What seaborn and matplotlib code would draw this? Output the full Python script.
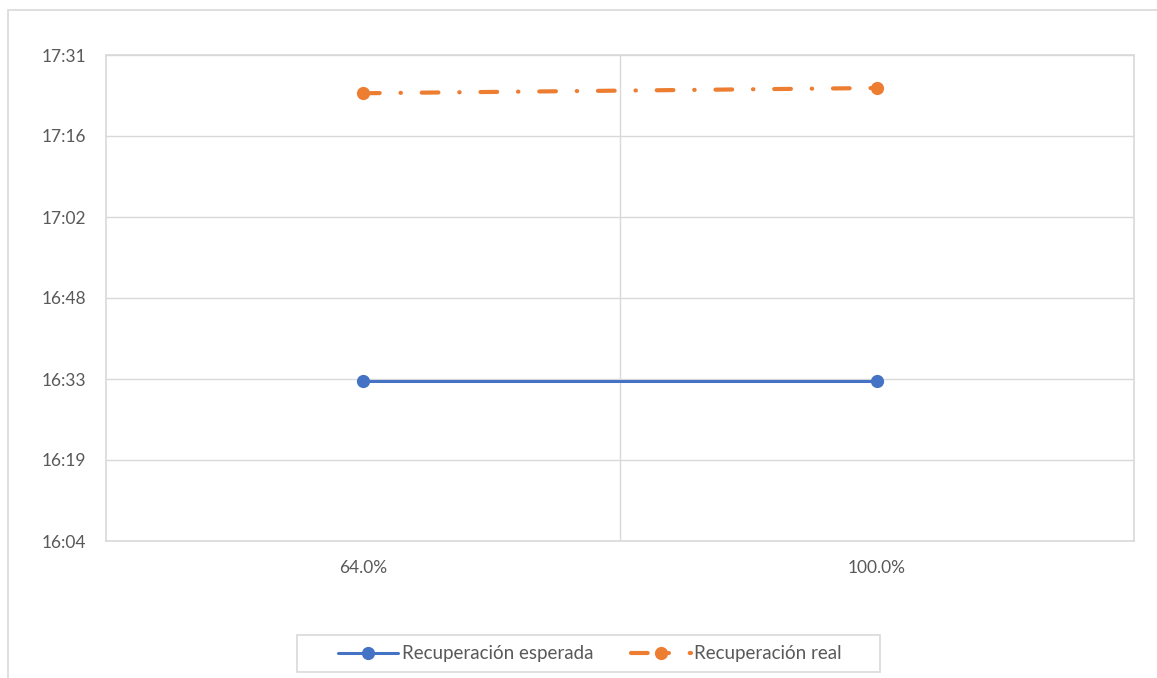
import numpy as np
import pandas as pd
import matplotlib
matplotlib.use("Agg")
import matplotlib.pyplot as plt
import matplotlib.ticker as mticker
from matplotlib.patches import Rectangle
import seaborn as sns

# datos
categorias = ["64.0%", "100.0%"]
esperada = ["16:33:15", "16:33:15"]
real = ["17:24:24", "17:25:20"]
series = ["Recuperación esperada", "Recuperación real"]


def a_fraccion(horas):
    return [pd.to_timedelta(h).total_seconds() / 86400 for h in horas]


df = pd.DataFrame({
    "categoria": categorias * 2,
    "valor": a_fraccion(esperada) + a_fraccion(real),
    "serie": [series[0]] * len(categorias) + [series[1]] * len(categorias),
})

sns.set_style("white")
plt.rcParams["font.family"] = ["Lato", "DejaVu Sans"]

fig = plt.figure(figsize=(11.57, 6.78), dpi=100)
ax = fig.add_axes([106 / 1157, 1 - 541 / 678, (1134 - 106) / 1157, (541 - 55) / 678])

colores = {series[0]: "#4472C4", series[1]: "#ED7D31"}
sns.lineplot(data=df, x="categoria", y="valor", hue="serie", palette=colores,
             marker="o", markersize=9.5, markeredgewidth=0, legend=False, ax=ax, sort=False)

lineas = ax.get_lines()
lineas[0].set_linewidth(2.2)
lineas[1].set_linewidth(3)
lineas[1].set_dashes((4, 5, 0.1, 5))
lineas[1].set_dash_capstyle("round")
for ln in lineas:
    ln.set_solid_capstyle("round")

ax.set_xlim(-0.5, len(categorias) - 0.5)
ax.set_ylim(0.67, 0.73)
ax.yaxis.set_major_locator(mticker.MultipleLocator(0.01))


def fmt_hora(x, pos):
    m = int(np.floor(x * 1440 + 1e-6))
    return f"{m // 60}:{m % 60:02d}"


ax.yaxis.set_major_formatter(mticker.FuncFormatter(fmt_hora))
ax.grid(axis="y", color="#D9D9D9", linewidth=1)
for xv in np.arange(0.5, len(categorias) - 0.5):
    ax.axvline(xv, color="#D9D9D9", linewidth=1, zorder=0)
for s in ax.spines.values():
    s.set_color("#D9D9D9")
    s.set_linewidth(1.2)
ax.tick_params(axis="both", length=0, labelsize=12.5, labelcolor="#595959")
ax.tick_params(axis="y", pad=14)
ax.tick_params(axis="x", pad=14)
ax.set_xlabel("")
ax.set_ylabel("")

handles = [
    plt.Line2D([], [], color=colores[series[0]], lw=2.2, marker="o", markersize=9.5, markeredgewidth=0),
    plt.Line2D([], [], color=colores[series[1]], lw=3, marker="o", markersize=9.5, markeredgewidth=0,
               dashes=(4, 5, 0.1, 5), dash_capstyle="round"),
]
leg = fig.legend(handles, series, loc="center", bbox_to_anchor=(590 / 1157, 1 - 654 / 678),
                 ncol=2, fontsize=13.5, frameon=False, handlelength=3.2,
                 columnspacing=2.0, handletextpad=0.2)
for t in leg.get_texts():
    t.set_color("#595959")

# recuadro de la leyenda
fig.patches.append(Rectangle((297 / 1157, 1 - 672 / 678), (880 - 297) / 1157, 37 / 678,
                             transform=fig.transFigure, fill=False, edgecolor="#D9D9D9", linewidth=1.2))

# borde exterior del gráfico
fig.patches.append(Rectangle((8 / 1157, -0.2), 2, 1.2 - 10 / 678, transform=fig.transFigure,
                             fill=False, edgecolor="#D9D9D9", linewidth=1.2))

fig.savefig("out.png", dpi=100)
